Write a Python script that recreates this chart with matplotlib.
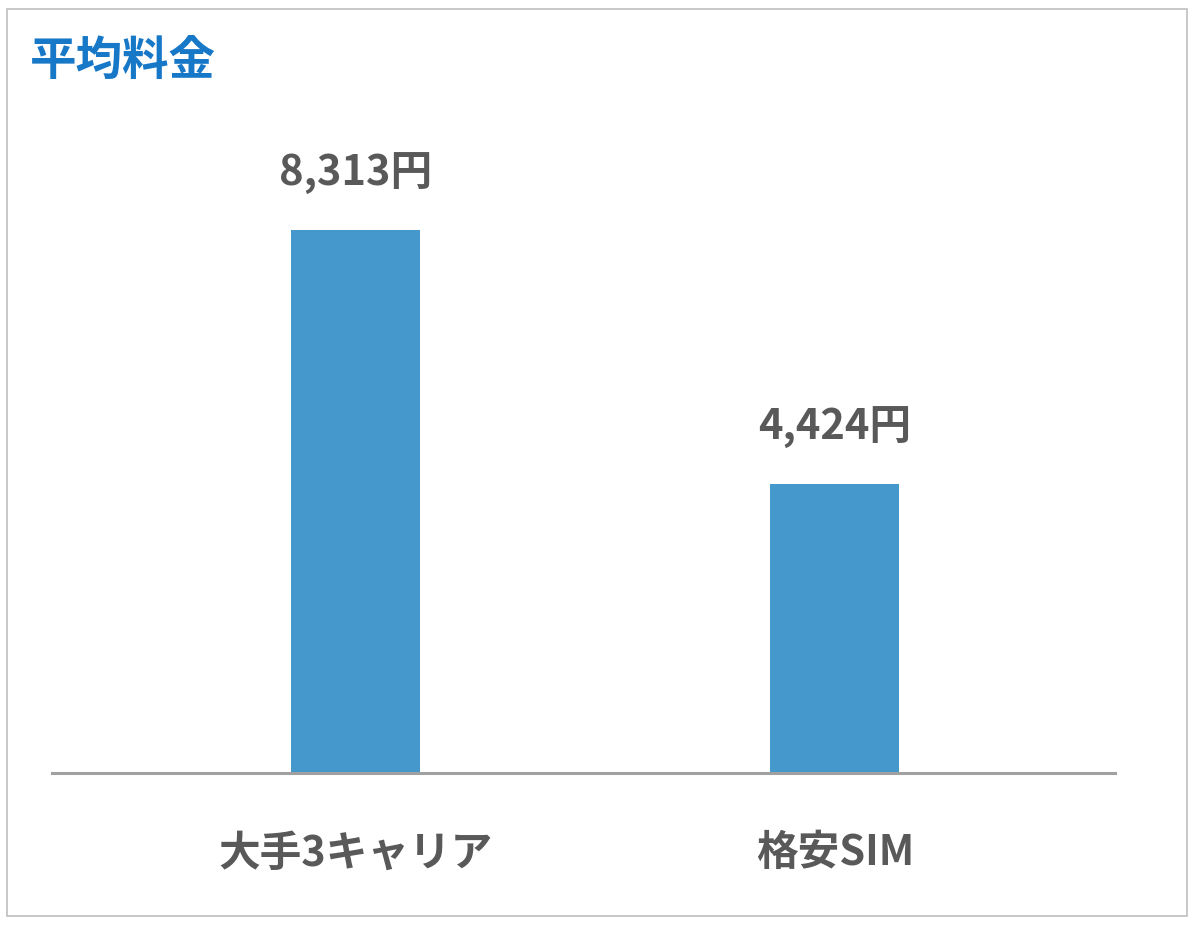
import matplotlib.pyplot as plt
from matplotlib.patches import Rectangle

plt.rcParams['font.family'] = ['Noto Sans CJK JP', 'DejaVu Sans']

categories = ["大手3キャリア", "格安SIM"]
values = [8313, 4424]
value_labels = ["8,313円", "4,424円"]
title = "平均料金"

bar_color = "#4598CB"
text_gray = "#595959"

fig = plt.figure(figsize=(12, 9.28), dpi=100)
fig.patch.set_facecolor("white")

# outer frame
fig.patches.append(Rectangle((7 / 1200, 1 - 917 / 928), 1180 / 1200, 907 / 928,
                             transform=fig.transFigure, fill=False,
                             edgecolor="#BFBFBF", linewidth=1.2))

ax = fig.add_axes([52 / 1200, 1 - 774 / 928, 1063 / 1200, 674 / 928])
x = range(len(categories))
ax.bar(x, values, width=0.269, color=bar_color)

ax.set_xlim(-0.633, 1.584)
ax.set_ylim(0, 8313 * 674 / 543)

for xi, v, lab in zip(x, values, value_labels):
    ax.annotate(lab, (xi, v), xytext=(0, 26), textcoords="offset points",
                ha="center", va="bottom", fontsize=30, fontweight="bold",
                color=text_gray)

for s in ["top", "right", "left"]:
    ax.spines[s].set_visible(False)
ax.spines["bottom"].set_color("#A0A0A0")
ax.spines["bottom"].set_linewidth(2.2)
ax.set_yticks([])
ax.set_xticks(list(x))
ax.set_xticklabels(categories, fontsize=30, fontweight="bold", color=text_gray)
ax.tick_params(axis="x", length=0, pad=42)

fig.text(30 / 1200, 1 - 62 / 928, title, ha="left", va="center",
         fontsize=33.5, fontweight="bold", color="#1878C8")

fig.savefig("out.png", dpi=100)
